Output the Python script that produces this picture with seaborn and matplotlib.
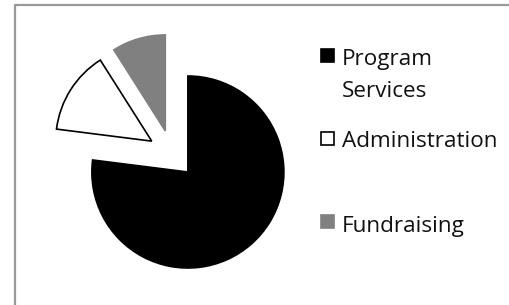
import matplotlib
matplotlib.use("Agg")
import matplotlib.pyplot as plt
import seaborn as sns
from matplotlib.patches import Rectangle
from matplotlib.lines import Line2D

# share of expenses
categories = ["Program Services", "Administration", "Fundraising"]
shares = [77, 14, 9]
slice_colors = ["#000000", "#ffffff", "#808080"]
edge_colors = ["#000000", "#000000", "#808080"]

sns.set_theme(style="white")
plt.rcParams["font.family"] = ["Open Sans", "DejaVu Sans"]

W, H = 510, 305
fig = plt.figure(figsize=(W / 100, H / 100), dpi=100)

# grey frame: only the left and top edges show
fig.add_artist(Line2D([15.5 / W, 15.5 / W], [0, 1 - 4.5 / H], color="#9a9a9a", lw=1.6))
fig.add_artist(Line2D([15.5 / W, 1], [1 - 4.5 / H, 1 - 4.5 / H], color="#9a9a9a", lw=1.6))

# pie: centre at (172, 154) px, radius 96 px
cx, cy, r, half = 172, 154, 96, 130
ax = fig.add_axes([(cx - half) / W, (H - cy - half) / H, 2 * half / W, 2 * half / H])
wedges, _ = ax.pie(shares, colors=slice_colors, explode=[0.25] * 3, startangle=90,
                   counterclock=False)
for w, ec in zip(wedges, edge_colors):
    w.set_edgecolor(ec)
    w.set_linewidth(1.2)
lim = half / r
ax.set_xlim(-lim, lim)
ax.set_ylim(-lim, lim)
ax.set_axis_off()

# legend drawn by hand so the square sits on the first text line
square_tops = [49, 132, 215]
baselines = [65, 147, 232]
for label, sq_top, base, fc, ec in zip(categories, square_tops, baselines,
                                       slice_colors, edge_colors):
    fig.add_artist(Rectangle((321 / W, 1 - (sq_top + 13) / H), 13 / W, 13 / H,
                             facecolor=fc, edgecolor=ec, lw=1.2, transform=fig.transFigure))
    # Excel wraps "Program Services" onto two lines
    words = label.split(" ") if label == "Program Services" else [label]
    for k, line in enumerate(words):
        fig.text(342 / W, 1 - (base + 32 * k) / H, line, fontsize=16.2, color="#111111",
                 va="baseline", ha="left")

fig.savefig("out.png", dpi=100)
